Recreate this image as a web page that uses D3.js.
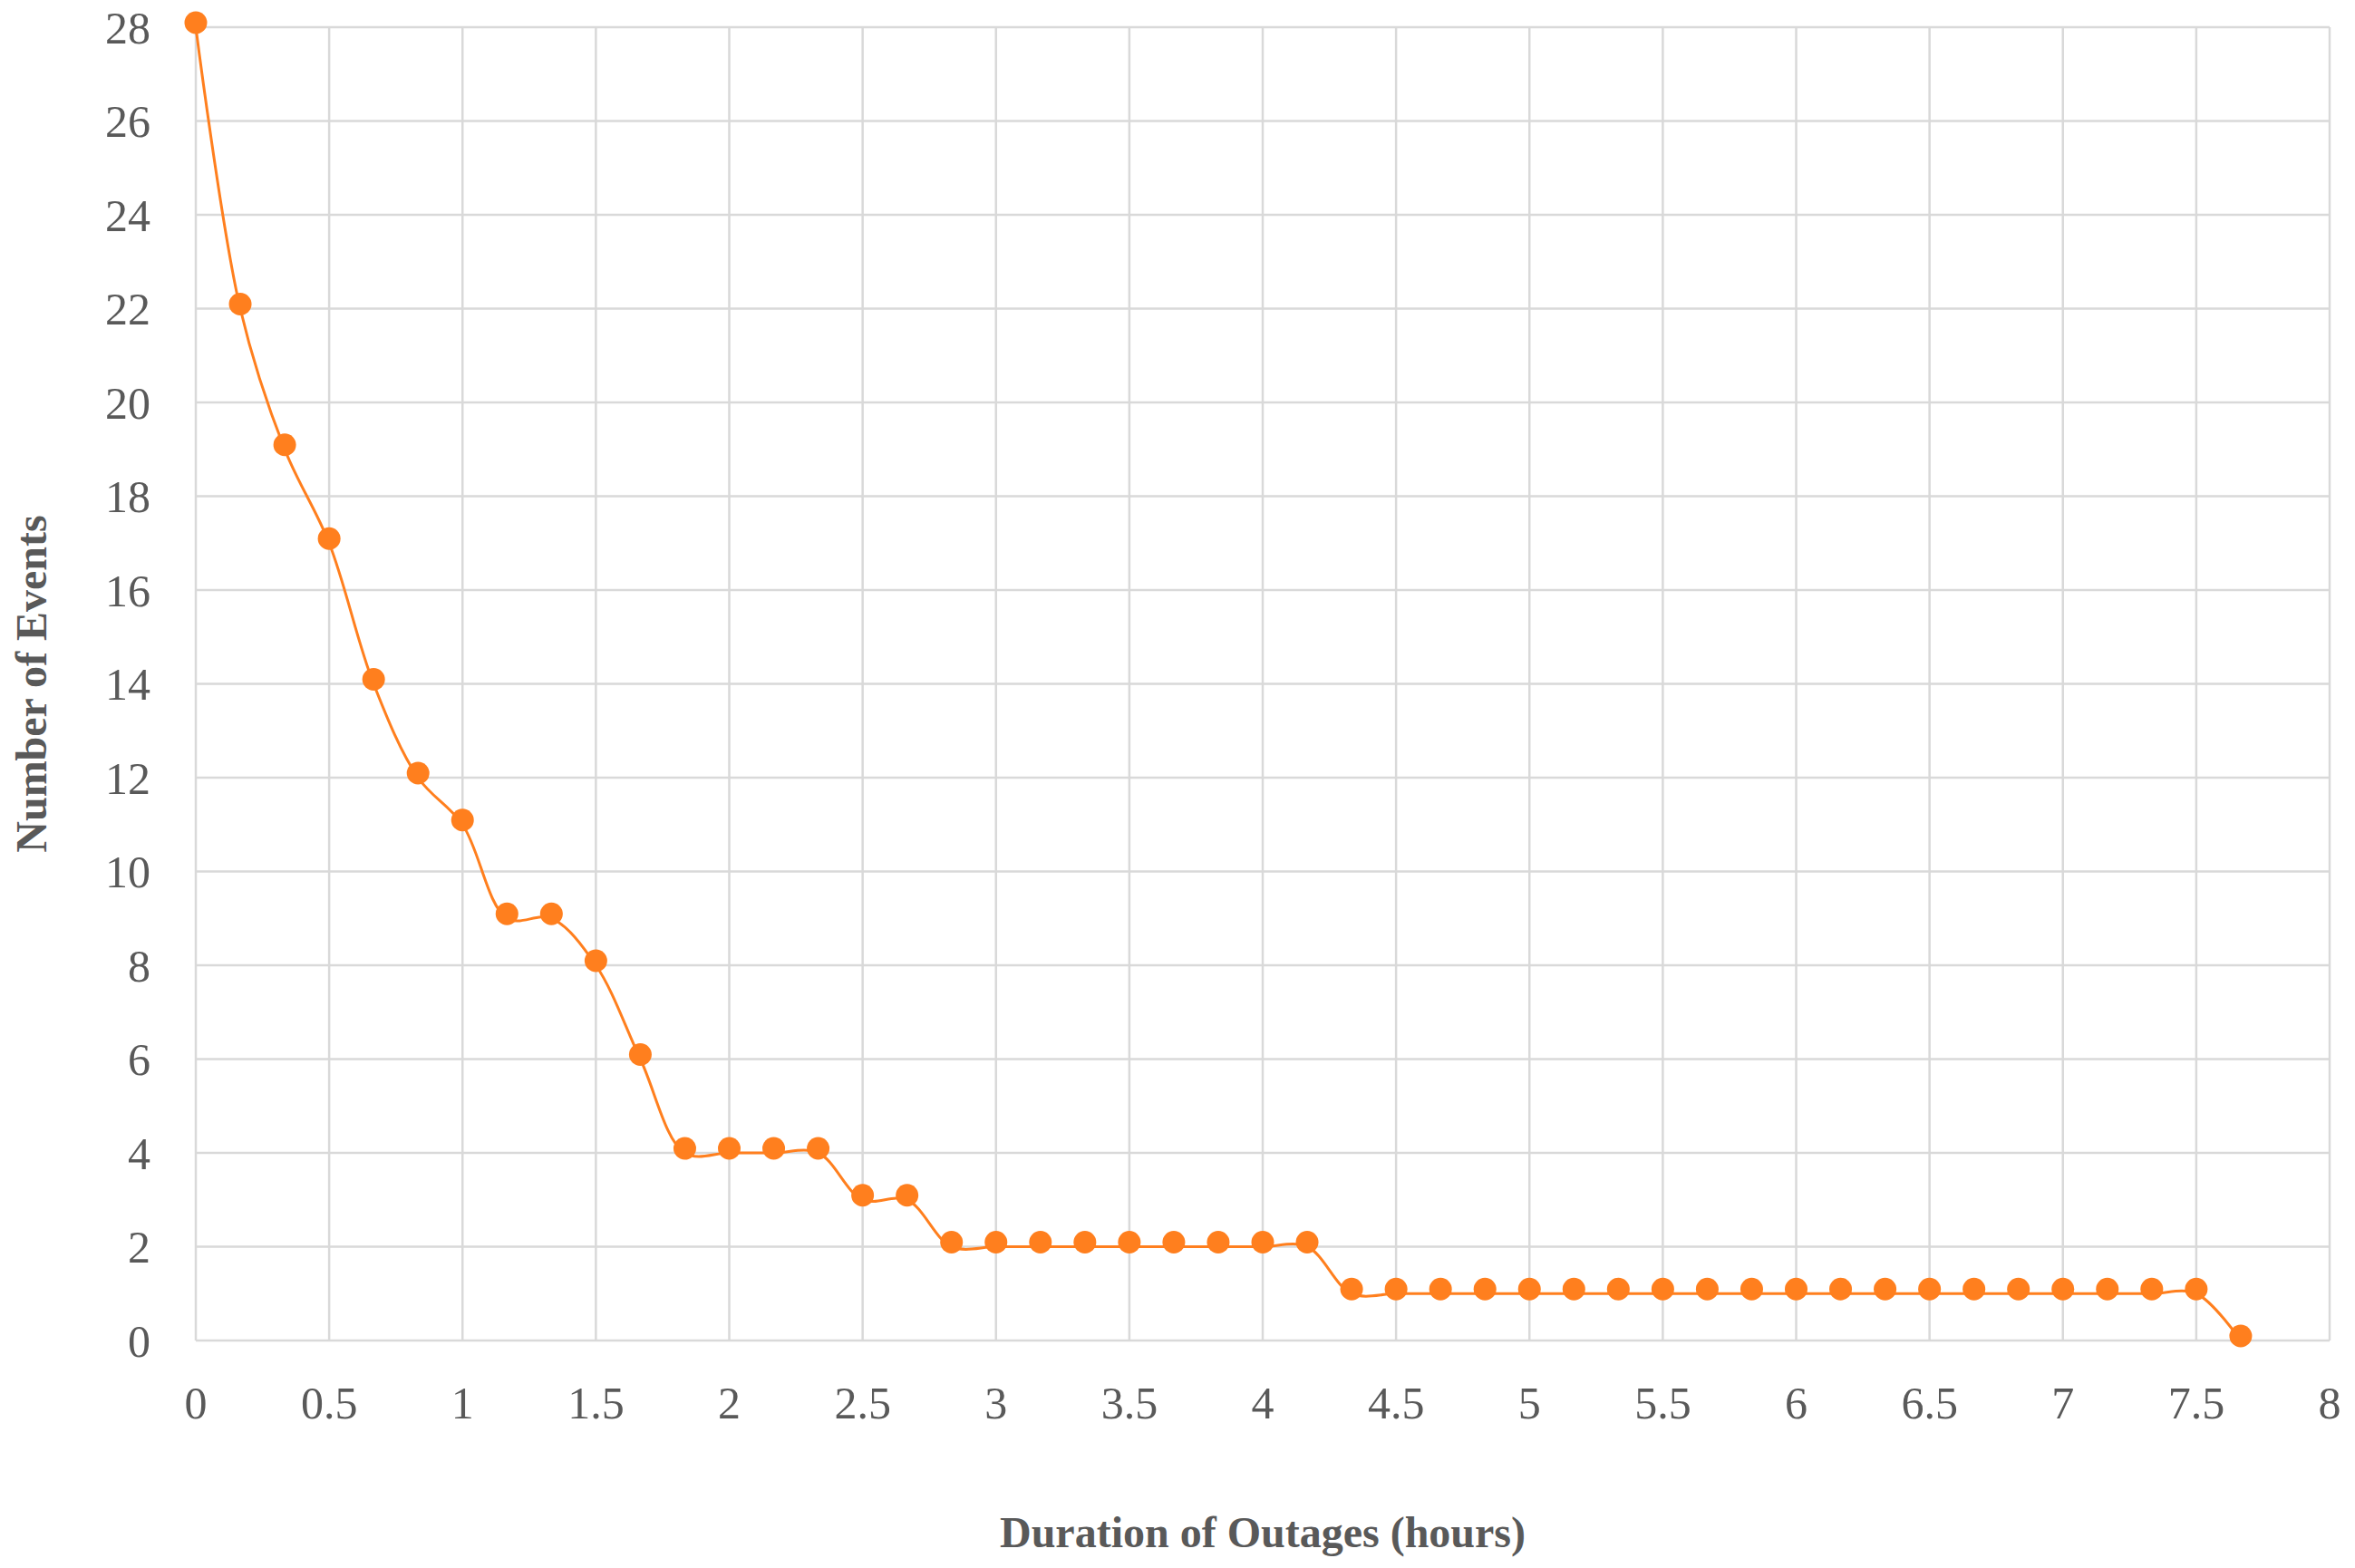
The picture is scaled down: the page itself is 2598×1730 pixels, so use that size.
<!DOCTYPE html>
<html>
<head>
<meta charset="utf-8">
<script src="https://cdn.jsdelivr.net/npm/d3@7"></script>
<style>
  body { margin: 0; background: #fff; }
  text { font-family: "Liberation Serif", "DejaVu Serif", serif; }
</style>
</head>
<body>
<div id="chart"></div>
<script>
// data: x in hours (10 minute steps), y = number of events
var durations = [0, 1/6, 2/6, 3/6, 4/6, 5/6, 1, 7/6, 8/6, 9/6, 10/6, 11/6, 2, 13/6, 14/6, 15/6, 16/6,
  17/6, 3, 19/6, 20/6, 21/6, 22/6, 23/6, 4, 25/6,
  26/6, 4.5, 28/6, 29/6, 5, 31/6, 32/6, 5.5, 34/6, 35/6, 6, 37/6, 38/6, 6.5, 40/6, 41/6, 7, 43/6, 44/6, 7.5,
  46/6];
var events = [28, 22, 19, 17, 14, 12, 11, 9, 9, 8, 6, 4, 4, 4, 4, 3, 3,
  2, 2, 2, 2, 2, 2, 2, 2, 2,
  1, 1, 1, 1, 1, 1, 1, 1, 1, 1, 1, 1, 1, 1, 1, 1, 1, 1, 1, 1,
  0];
var xTicks = d3.range(0, 8.01, 0.5);
var yTicks = d3.range(0, 28.01, 2);

var width = 2598, height = 1730;
var margin = {left: 216, right: 28, top: 30, bottom: 251};

var svg = d3.select("#chart").append("svg")
  .attr("width", width).attr("height", height);

var x = d3.scaleLinear().domain([0, 8]).range([margin.left, width - margin.right]);
var y = d3.scaleLinear().domain([0, 28]).range([height - margin.bottom, margin.top]);

//grid lines
svg.append("g").selectAll("line").data(yTicks).enter().append("line")
  .attr("x1", x(0)).attr("x2", x(8))
  .attr("y1", function(d){return y(d);}).attr("y2", function(d){return y(d);})
  .style("stroke", "#d9d9d9").style("stroke-width", 2.5);
svg.append("g").selectAll("line").data(xTicks).enter().append("line")
  .attr("y1", y(0)).attr("y2", y(28))
  .attr("x1", function(d){return x(d);}).attr("x2", function(d){return x(d);})
  .style("stroke", "#d9d9d9").style("stroke-width", 2.5);

//tick labels
svg.append("g").selectAll("text").data(yTicks).enter().append("text")
  .attr("x", x(0) - 50).attr("y", function(d){return y(d);})
  .attr("dy", "0.35em").attr("text-anchor", "end")
  .style("font-size", "50px").style("fill", "#595959")
  .text(function(d){return d;});
svg.append("g").selectAll("text").data(xTicks).enter().append("text")
  .attr("x", function(d){return x(d);}).attr("y", y(0) + 68)
  .attr("dy", "0.35em").attr("text-anchor", "middle")
  .style("font-size", "50px").style("fill", "#595959")
  .text(function(d){return d;});

//axis titles
svg.append("text")
  .attr("x", (x(0) + x(8)) / 2).attr("y", 1690).attr("dy", "0.35em")
  .attr("text-anchor", "middle")
  .style("font-size", "48px").style("font-weight", "bold").style("fill", "#595959")
  .text("Duration of Outages (hours)");
svg.append("text")
  .attr("transform", "translate(34," + ((y(0) + y(28)) / 2) + ") rotate(-90)")
  .attr("dy", "0.35em").attr("text-anchor", "middle")
  .style("font-size", "48px").style("font-weight", "bold").style("fill", "#595959")
  .text("Number of Events");

//smoothed line + markers
var pts = durations.map(function(d, i){return [d, events[i]];});
var line = d3.line()
  .x(function(d){return x(d[0]);})
  .y(function(d){return y(d[1]);})
  .curve(d3.curveCatmullRom.alpha(0.5));
svg.append("path").datum(pts)
  .attr("d", line)
  .style("fill", "none").style("stroke", "#ff7f1e").style("stroke-width", 3);
svg.append("g").selectAll("circle").data(pts).enter().append("circle")
  .attr("cx", function(d){return x(d[0]);})
  .attr("cy", function(d){return y(d[1]) - 5;})
  .attr("r", 12.5)
  .style("fill", "#ff7f1e");
</script>
</body>
</html>
